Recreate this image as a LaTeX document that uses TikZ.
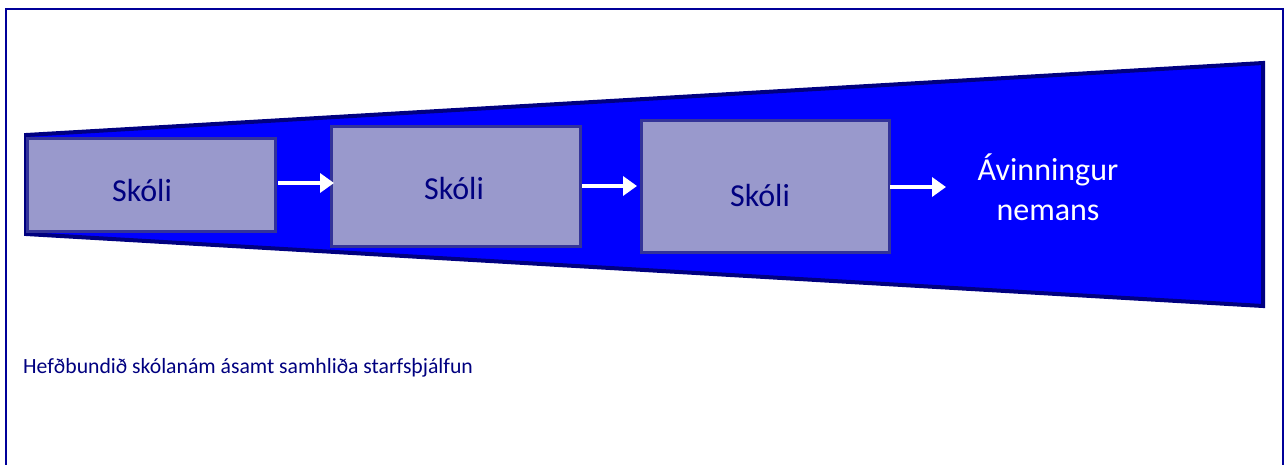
\documentclass[tikz,border=0pt]{standalone}
\usepackage{fontspec}
\setmainfont{Carlito}
\usetikzlibrary{arrows.meta}
\definecolor{navy}{HTML}{000080}
\definecolor{framecol}{HTML}{000099}
\definecolor{boxfill}{HTML}{9999CC}
\definecolor{boxline}{HTML}{333399}
\definecolor{wedge}{HTML}{0000FF}
\tikzset{
  x=1pt, y=-1pt,
  schoolbox/.style={draw=boxline, line width=3pt, fill=boxfill, inner sep=0pt},
  boxtext/.style={text=navy, font=\fontsize{32}{38}\selectfont},
  flow/.style={draw=white, line width=4pt, -{Triangle[length=14pt,width=19pt]}},
}
\begin{document}
\begin{tikzpicture}
\useasboundingbox (0,0) rectangle (1285,464);
\fill[white] (0,0) rectangle (1285,464);
% frame (no bottom edge visible)
\draw[framecol, line width=2pt] (6,470) -- (6,9) -- (1283,9) -- (1283,470);
% wedge
\draw[navy, fill=wedge, line width=4pt, line join=miter] (26,135) -- (1263,63) -- (1263,306) -- (26,234) -- cycle;
% boxes
\node[schoolbox, minimum width=248pt, minimum height=93pt, anchor=north west] (s1) at (26,137) {};
\node[schoolbox, minimum width=249pt, minimum height=120pt, anchor=north west] (s2) at (330,125) {};
\node[schoolbox, minimum width=248pt, minimum height=132pt, anchor=north west] (s3) at (640,119) {};
\node[boxtext] (t1) at (142,190) {Skóli};
\node[boxtext] (t2) at (454,188) {Skóli};
\node[boxtext] (t3) at (760,195) {Skóli};
% outcome
\node[text=white, font=\fontsize{32}{40}\selectfont, align=center] (out) at (1048,187) {Ávinningur\\nemans};
% arrows
\coordinate (a1s) at (278,183); \coordinate (a1e) at (334,183);
\coordinate (a2s) at (582,186); \coordinate (a2e) at (637,186);
\coordinate (a3s) at (890,187); \coordinate (a3e) at (946,187);
\draw[flow] (a1s) -- (a1e);
\draw[flow] (a2s) -- (a2e);
\draw[flow] (a3s) -- (a3e);
% caption
\node[text=navy, font=\fontsize{21.7}{26}\selectfont, anchor=base west, inner sep=0pt] (cap) at (23,373) {Hefðbundið skólanám ásamt samhliða starfsþjálfun};
\end{tikzpicture}
\end{document}
